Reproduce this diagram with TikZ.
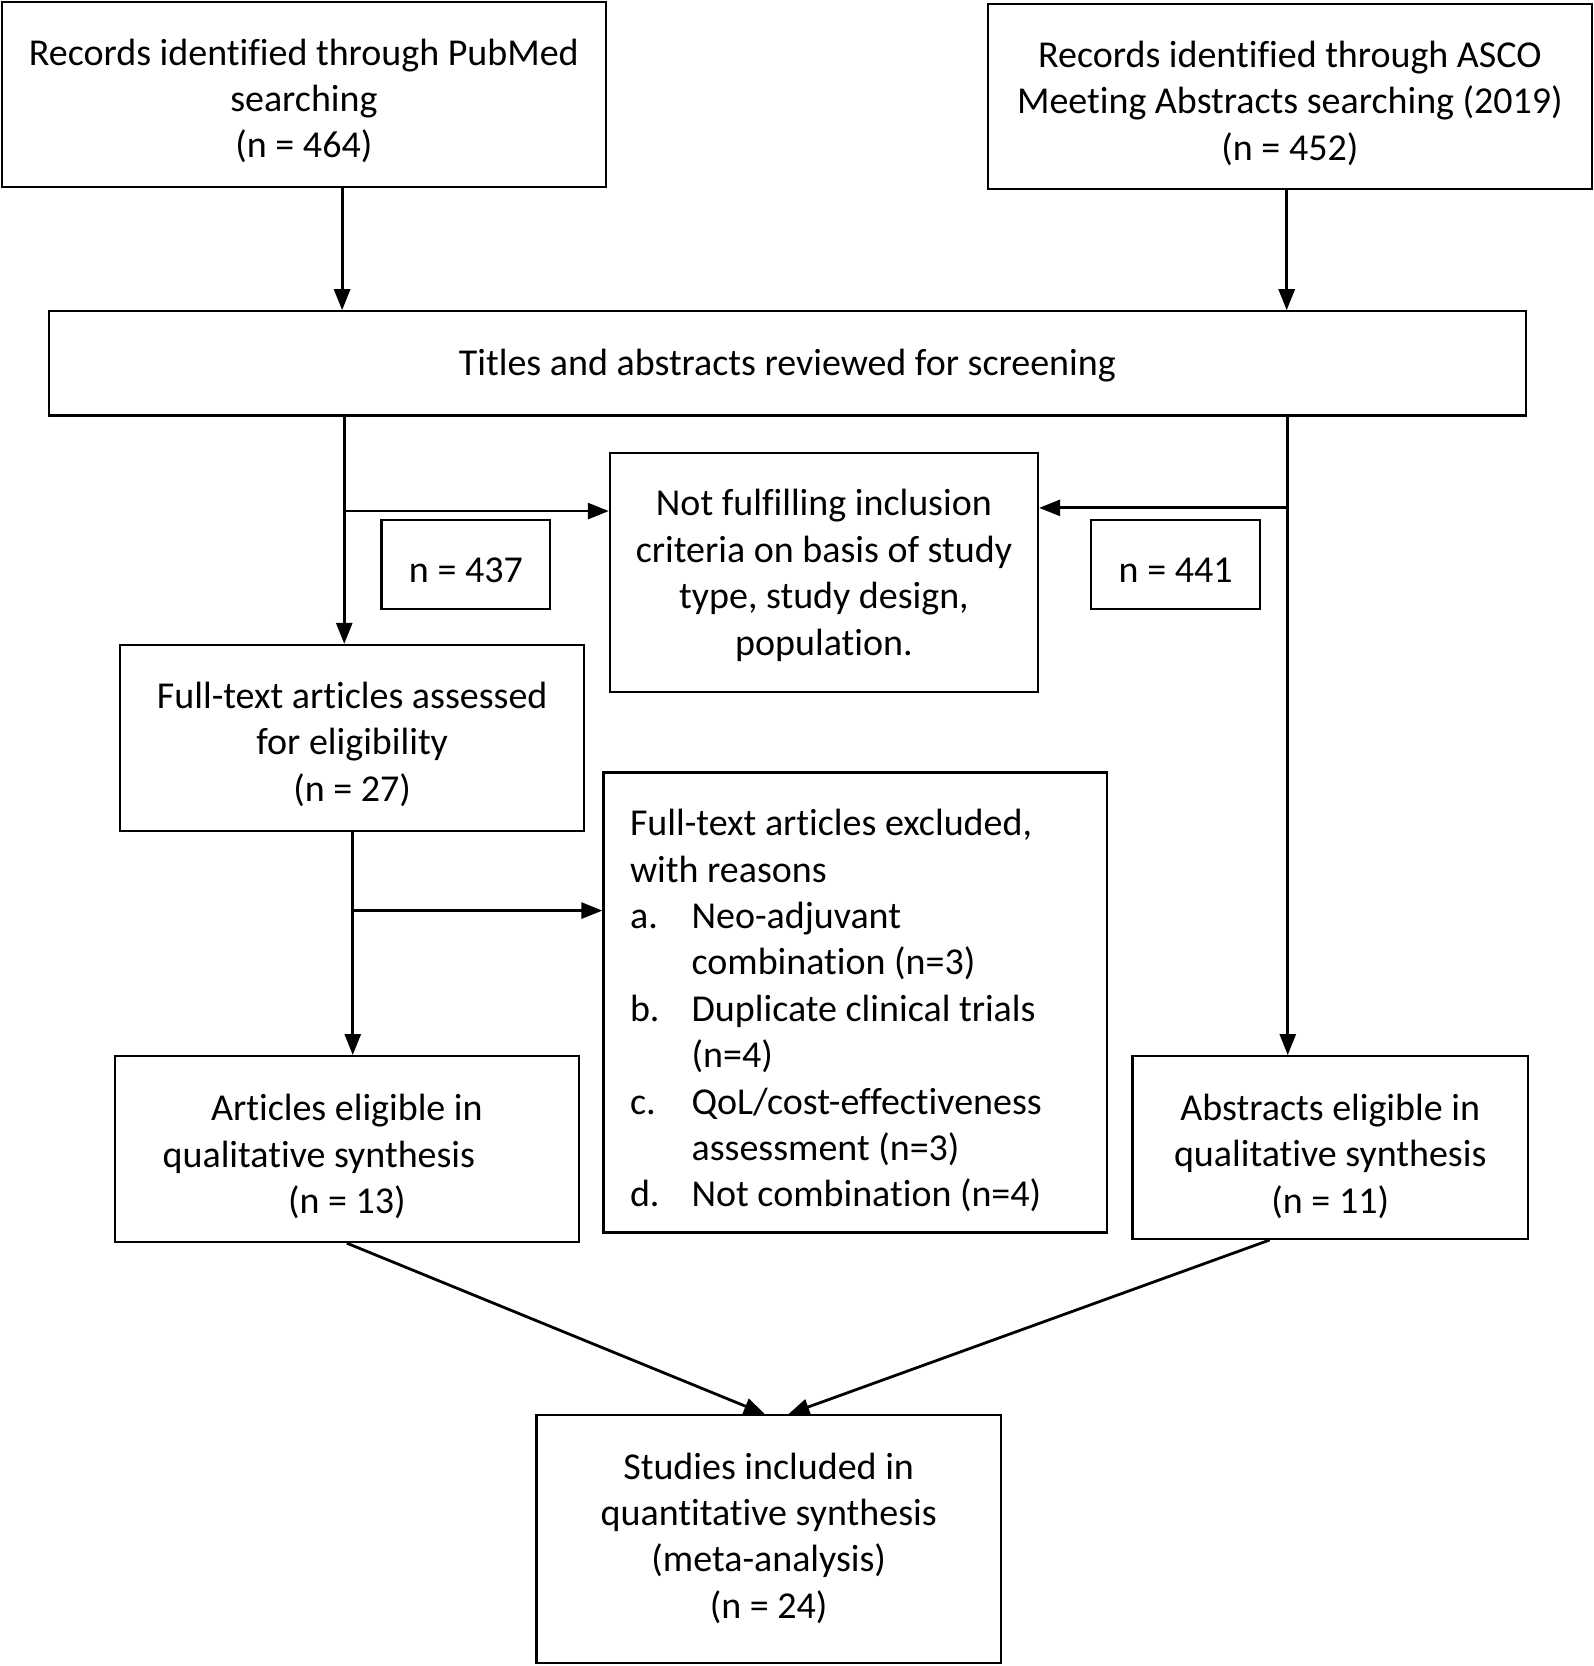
\documentclass[tikz,border=0pt]{standalone}
\usepackage{fontspec}
\setmainfont{Carlito}[Ligatures=NoCommon]
\usetikzlibrary{arrows.meta,calc}
\begin{document}
\begin{tikzpicture}[x=0.53133pt,y=-0.53133pt,
  box/.style={draw,line width=1.1pt,inner sep=0pt},
  lab/.style={align=center,inner sep=0pt,font=\fontsize{19}{23.2}\selectfont},
  arr/.style={line width=1.4pt,-{Triangle[length=10.5pt,width=8pt]}}]
\useasboundingbox (0,0) rectangle (1500,1568);
\node[box,minimum width=301.8pt,minimum height=92.5pt,
  label={[lab,yshift=-3.2pt]center:{Records identified through PubMed\\searching\\(n = 464)}}] (pub) at (286,89) {};
\node[box,minimum width=301.8pt,minimum height=92.5pt,
  label={[lab,yshift=-3.2pt]center:{Records identified through ASCO\\Meeting Abstracts searching (2019)\\(n = 452)}}] (asco) at (1214,91) {};
\node[box,minimum width=738.5pt,minimum height=52.1pt,
  label={[lab,yshift=-1.1pt]center:{Titles and abstracts reviewed for screening}}] (titles) at (741,342) {};
\node[box,minimum width=84.5pt,minimum height=44.6pt,
  label={[lab,yshift=-3.2pt]center:{n = 437}}] (n437) at (438.5,531) {};
\node[box,minimum width=214.1pt,minimum height=119.5pt,
  label={[lab,yshift=-1.6pt]center:{Not fulfilling inclusion\\criteria on basis of study\\type, study design,\\population.}}] (notful) at (775.5,538.5) {};
\node[box,minimum width=84.5pt,minimum height=44.6pt,
  label={[lab,yshift=-3.2pt]center:{n = 441}}] (n441) at (1106.5,531) {};
\node[box,minimum width=232.2pt,minimum height=93pt,
  label={[lab,yshift=-3.2pt]center:{Full-text articles assessed\\for eligibility\\(n = 27)}}] (full) at (331.5,694.5) {};
\node[box,minimum width=251.9pt,minimum height=230.1pt,
  label={[lab,yshift=-4.8pt]center:{\makebox[225.3pt][l]{\begin{tabular}{@{}p{30.8pt}@{}l@{}}
   \multicolumn{2}{@{}l@{}}{Full-text articles excluded,}\\
   \multicolumn{2}{@{}l@{}}{with reasons}\\
   a. & Neo-adjuvant\\
      & combination (n=3)\\
   b. & Duplicate clinical trials\\
      & (n=4)\\
   c. & QoL/cost-effectiveness\\
      & assessment (n=3)\\
   d. & Not combination (n=4)
   \end{tabular}}}}] (excl) at (805,943.5) {};
\node[box,minimum width=232.2pt,minimum height=93pt,
  label={[lab,yshift=-3.7pt]center:{Articles eligible in\\qualitative synthesis\makebox[28pt]{}\\(n = 13)}}] (art) at (326.5,1081.5) {};
\node[box,minimum width=197.7pt,minimum height=91.4pt,
  label={[lab,yshift=-4.3pt]center:{Abstracts eligible in\\qualitative synthesis\\(n = 11)}}] (abs) at (1252,1080) {};
\node[box,minimum width=232.2pt,minimum height=123.8pt,
  label={[lab,yshift=0.5pt]center:{Studies included in\\quantitative synthesis\\(meta-analysis)\\(n = 24)}}] (stud) at (723.5,1448.5) {};
% coordinates for connector columns
\coordinate (c1) at (322,0);
\coordinate (c2) at (1211,0);
\coordinate (c3) at (324,481);
\coordinate (c4) at (1212,478);
\coordinate (c5) at (332,857);
\coordinate (t1) at (720,0);
\coordinate (t2) at (742,0);
\coordinate (s2) at (1195,0);
\draw[arr] (pub.south -| c1) -- (titles.north -| c1);
\draw[arr] (asco.south -| c2) -- (titles.north -| c2);
\draw[arr] (titles.south -| c3) -- (full.north -| c3);
\draw[arr] (c3) -- (c3 -| notful.west);
\draw[arr] (titles.south -| c4) -- (abs.north -| c4);
\draw[arr] (c4) -- (c4 -| notful.east);
\draw[arr] (full.south -| c5) -- (art.north -| c5);
\draw[arr] (c5) -- (c5 -| excl.west);
\draw[arr] (art.south) -- (stud.north -| t1);
\draw[arr] (abs.south -| s2) -- (stud.north -| t2);
\end{tikzpicture}
\end{document}
